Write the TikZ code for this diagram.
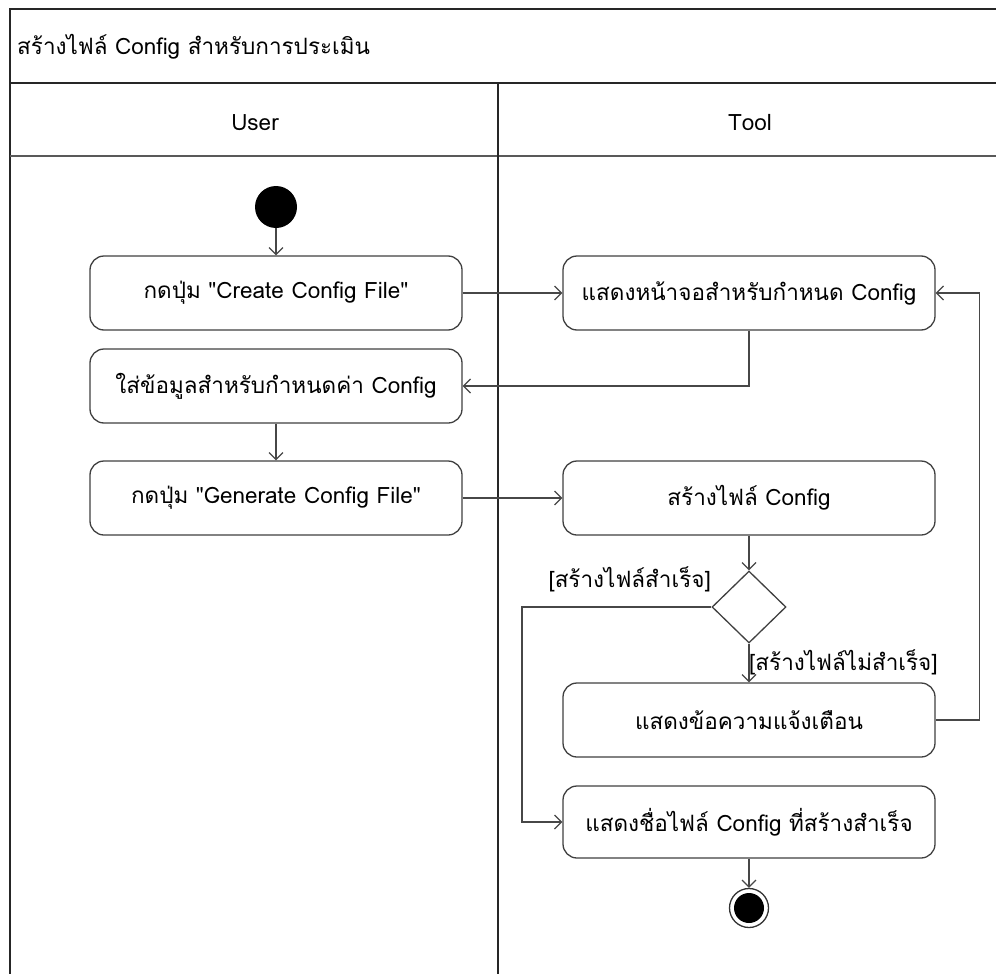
\documentclass[tikz,border=0pt]{standalone}
\usepackage{fontspec}
\newfontfamily\thaifont[Script=Thai]{Loma}
\usetikzlibrary{arrows.meta,shapes.geometric}

\begin{document}
\begin{tikzpicture}[x=1pt,y=-1pt,
  font=\thaifont\fontsize{22.5}{26}\selectfont,
  act/.style={draw=black!75, line width=1.3pt, rounded corners=14pt,
    minimum width=372pt, minimum height=74pt, fill=white, inner sep=0pt},
  flow/.style={draw=black!72, line width=1.3pt,
    -{Straight Barb[length=7pt,width=14pt,line width=1.2pt]}},
  lane/.style={draw=black!85, line width=1.3pt},
  guard/.style={inner sep=0pt}]

\useasboundingbox (0,0) rectangle (996,974);

% swimlane frame
\draw[lane] (10,980) -- (10,9) -- (1000,9);
\draw[lane] (10,83) -- (1000,83);
\draw[lane, draw=black!65] (10,156) -- (1000,156);
\draw[lane] (498,83) -- (498,980);
\node[anchor=west, inner sep=0pt] (title) at (17,47) {สร้างไฟล์ Config สำหรับการประเมิน};
\node (userlane) at (255,123) {User};
\node (toollane) at (750,123) {Tool};

% start and end
\node[circle, fill=black, minimum size=42pt, inner sep=0pt] (start) at (276,207) {};
\node[circle, draw=black!80, line width=1.3pt, fill=white, minimum size=39pt, inner sep=0pt] (finish) at (749,908) {};
\node[circle, fill=black, minimum size=30pt, inner sep=0pt] (finishdot) at (749,908) {};

% actions
\node[act] (createbtn) at (276,293) {กดปุ่ม "Create Config File"};
\node[act] (showscreen) at (749,293) {แสดงหน้าจอสำหรับกำหนด Config};
\node[act] (enterdata) at (276,386) {ใส่ข้อมูลสำหรับกำหนดค่า Config};
\node[act] (genbtn) at (276,498) {กดปุ่ม "Generate Config File"};
\node[act] (makefile) at (749,498) {สร้างไฟล์ Config};
\node[diamond, draw=black!75, line width=1.3pt, fill=white, minimum width=74pt,
      minimum height=72pt, inner sep=0pt] (check) at (749,607) {};
\node[act] (warn) at (749,720) {แสดงข้อความแจ้งเตือน};
\node[act, minimum height=72pt] (showname) at (749,822) {แสดงชื่อไฟล์ Config ที่สร้างสำเร็จ};

% guards
\node[guard, anchor=east] (okguard) at (711,579) {[สร้างไฟล์สำเร็จ]};
\node[guard, anchor=west] (failguard) at (749,662) {[สร้างไฟล์ไม่สำเร็จ]};

% flows
\draw[flow] (start) -- (createbtn);
\draw[flow] (createbtn) -- (showscreen);
\draw[flow] (showscreen.south) |- (enterdata.east);
\draw[flow] (enterdata) -- (genbtn);
\draw[flow] (genbtn) -- (makefile);
\draw[flow] (makefile) -- (check);
\draw[flow] (check) -- (warn);
\draw[flow] (warn.east) -- ++(44,0) |- (showscreen.east);
\draw[flow] (check.west) -- (522,607) |- (showname.west);
\draw[flow] (showname) -- (finish);
\end{tikzpicture}
\end{document}
